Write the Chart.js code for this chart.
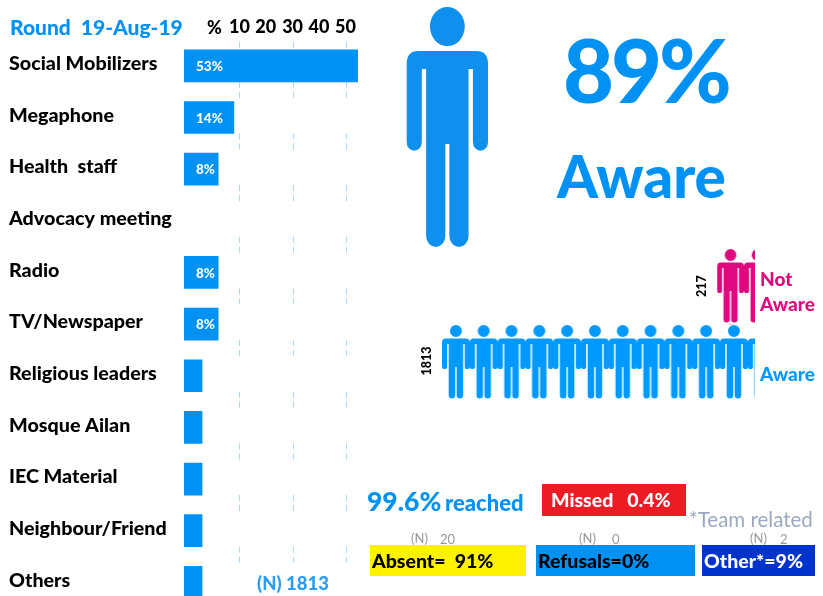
<!DOCTYPE html>
<html><head><meta charset="utf-8">
<script src="https://cdn.jsdelivr.net/npm/chart.js@4"></script>
<style>
html,body{margin:0;padding:0;background:#fff;width:823px;height:596px;overflow:hidden}
canvas{position:absolute;display:block}
.t{position:absolute;font-family:Lato,sans-serif;font-weight:900;white-space:pre;line-height:1;transform:translateY(-50%)}
.box{position:absolute}
.r{transform:translate(-50%,-50%) rotate(-90deg)}
.n{font-weight:400;color:#999;font-size:13px}
</style></head><body>
<canvas id="bars" width="823" height="620" style="left:0;top:0"></canvas>
<canvas id="people" width="313" height="150" style="left:442px;top:249px"></canvas>
<div class="t" style="left:10px;top:26px;font-size:21px;color:#0091F5">Round  19-Aug-19</div>
<div class="t" style="left:207px;top:27px;font-size:18px;color:#000">%</div>
<div class="t" style="left:257px;top:583px;font-size:18.5px;color:#2a9df4">(N) 1813</div>
<div class="t" style="left:563px;top:69px;font-size:88px;letter-spacing:-3px;color:#0091F5">89%</div>
<div class="t" style="left:557px;top:175px;font-size:58.5px;color:#0091F5">Aware</div>
<div class="t r" style="left:702px;top:286px;font-size:12.5px;color:#000">217</div>
<div class="t r" style="left:427px;top:361px;font-size:12.5px;color:#000">1813</div>
<div class="t" style="left:760px;top:278px;font-size:19px;color:#E0087F">Not</div>
<div class="t" style="left:760px;top:303px;font-size:19px;color:#E0087F">Aware</div>
<div class="t" style="left:760px;top:373px;font-size:19px;color:#0099FF">Aware</div>
<div class="t" style="left:367px;top:501px;font-size:26.5px;color:#0091F5">99.6%</div>
<div class="t" style="left:445px;top:503px;font-size:22px;color:#0091F5">reached</div>
<div class="box" style="left:542px;top:484px;width:144px;height:32px;background:#ED1C24"></div>
<div class="t" style="left:551px;top:500px;font-size:19.5px;color:#fff">Missed   0.4%</div>
<div class="t" style="left:689px;top:519px;font-size:20.5px;font-weight:400;color:#9BA8C2">*Team related</div>
<div class="t n" style="left:411px;top:538px">(N)</div><div class="t n" style="left:440px;top:539px">20</div>
<div class="t n" style="left:579px;top:538px">(N)</div><div class="t n" style="left:612px;top:539px">0</div>
<div class="t n" style="left:750px;top:538px">(N)</div><div class="t n" style="left:780px;top:539px">2</div>
<div class="box" style="left:370px;top:545px;width:156px;height:31px;background:#FFF200"></div>
<div class="t" style="left:372px;top:561px;font-size:19.5px;color:#000">Absent=  91%</div>
<div class="box" style="left:536px;top:545px;width:159px;height:31px;background:#0091F5"></div>
<div class="t" style="left:538px;top:561px;font-size:19.5px;color:#000">Refusals=0%</div>
<div class="box" style="left:702px;top:545px;width:113px;height:31px;background:#0033CC"></div>
<div class="t" style="left:704px;top:561px;font-size:19.5px;color:#fff">Other*=9%</div>
<script>
const categories = ['Social Mobilizers','Megaphone','Health  staff','Advocacy meeting','Radio','TV/Newspaper','Religious leaders','Mosque Ailan','IEC Material','Neighbour/Friend','Others'];
const barValues = [53,15.2,10.4,null,10.4,10.4,5.5,5.5,5.5,5.5,5.5];
const barLabels = ['53%','14%','8%','','8%','8%','','','','',''];
const tickValues = [16.9,24.9,33.07,41.1,49.2];
const tickLabels = ['10','20','30','40','50'];
const gridTicks = ['10','30','50'];
const awareCategories = ['Not Aware','Aware'];
const awareCounts = [217,1813];

const FONT = 'Lato, sans-serif';
const BLUE = '#0091F5';

function personPath(c){
  c.beginPath();
  c.arc(14,6,6,0,Math.PI*2);
  c.moveTo(0,17.5);
  c.quadraticCurveTo(0,13.5,4,13.5);
  c.lineTo(24,13.5);
  c.quadraticCurveTo(28,13.5,28,17.5);
  c.lineTo(28,41.5);
  c.arc(25.4,41.5,2.6,0,Math.PI);
  c.lineTo(22.8,19);
  c.lineTo(21.3,19);
  c.lineTo(21.3,70.3);
  c.arc(18,70.3,3.3,0,Math.PI);
  c.lineTo(14.7,42);
  c.lineTo(13.3,42);
  c.lineTo(13.3,70.3);
  c.arc(10,70.3,3.3,0,Math.PI);
  c.lineTo(6.7,19);
  c.lineTo(5.2,19);
  c.lineTo(5.2,41.5);
  c.arc(2.6,41.5,2.6,0,Math.PI);
  c.closePath();
  c.fill();
}

const rowGrid = {
  id:'rowGrid',
  beforeDatasetsDraw(chart){
    const {ctx,scales:{x,y}} = chart;
    ctx.save();
    ctx.strokeStyle='#a9d8fa'; ctx.lineWidth=1; ctx.setLineDash([6,4]);
    tickValues.forEach((v,i)=>{
      if(!gridTicks.includes(tickLabels[i])) return;
      const px=Math.round(x.getPixelForValue(v))+0.5;
      categories.forEach((_,k)=>{
        const cy=y.getPixelForValue(k);
        if(k===0){ctx.beginPath();ctx.moveTo(px,cy-24);ctx.lineTo(px,cy-16);ctx.stroke();}
        if(k<categories.length-1){
          const ny=y.getPixelForValue(k+1);
          ctx.beginPath();ctx.moveTo(px,cy+16);ctx.lineTo(px,ny-16);ctx.stroke();
        }
      });
    });
    ctx.restore();
  },
  afterDatasetsDraw(chart){
    const {ctx,scales:{x,y}} = chart;
    ctx.save();
    ctx.fillStyle='#fff'; ctx.font='900 13.5px '+FONT; ctx.textBaseline='middle'; ctx.textAlign='left';
    barLabels.forEach((s,k)=>{ if(s) ctx.fillText(s,x.getPixelForValue(0)+12,y.getPixelForValue(k)+1); });
    // large figure
    ctx.translate(406.7,7);
    ctx.scale(81.3/28,238/73);
    ctx.fillStyle='#0f8fee';
    personPath(ctx);
    ctx.restore();
  }
};

new Chart(document.getElementById('bars'),{
  type:'bar',
  data:{labels:categories,datasets:[{data:barValues,backgroundColor:BLUE,barThickness:32,borderWidth:0}]},
  plugins:[rowGrid],
  options:{
    indexAxis:'y',responsive:false,animation:false,
    layout:{padding:{left:9,right:465,top:0,bottom:0}},
    plugins:{legend:{display:false},tooltip:{enabled:false}},
    scales:{
      x:{position:'top',min:0,max:53,
        afterBuildTicks(s){s.ticks=tickValues.map(v=>({value:v}));},
        afterFit(s){s.height=40;},
        grid:{display:false,drawTicks:false},border:{display:false},
        ticks:{autoSkip:false,maxRotation:0,padding:2,color:'#000',font:{family:FONT,weight:'900',size:18},
          callback(v,i){return tickLabels[i];}}
      },
      y:{afterFit(s){s.width=175;},
        grid:{display:false},border:{display:false},
        ticks:{crossAlign:'far',padding:0,labelOffset:-2,color:'#000',autoSkip:false,font:{family:FONT,weight:'900',size:19.7}}
      }
    }
  }
});

function tile(color){
  const t=document.createElement('canvas');t.width=28;t.height=75;
  const c=t.getContext('2d');c.fillStyle=color;personPath(c);return t;
}
const pc=document.getElementById('people').getContext('2d');
function pattern(color,ox,oy,sx){
  const p=pc.createPattern(tile(color),'repeat');
  p.setTransform(new DOMMatrix([sx,0,0,1,ox,oy]));
  return p;
}
const fills=[pattern('#E0087F',275,0,0.965),pattern('#0099FF',0,76,0.993)];
new Chart(pc.canvas,{
  type:'bar',
  data:{labels:awareCategories,datasets:[{data:awareCounts,backgroundColor:fills,barPercentage:1,categoryPercentage:1,borderWidth:0}]},
  options:{
    indexAxis:'y',responsive:false,animation:false,
    layout:{padding:0},
    plugins:{legend:{display:false},tooltip:{enabled:false}},
    scales:{x:{display:false,reverse:true,min:0,max:1813},y:{display:false}}
  }
});
</script>
</body></html>
